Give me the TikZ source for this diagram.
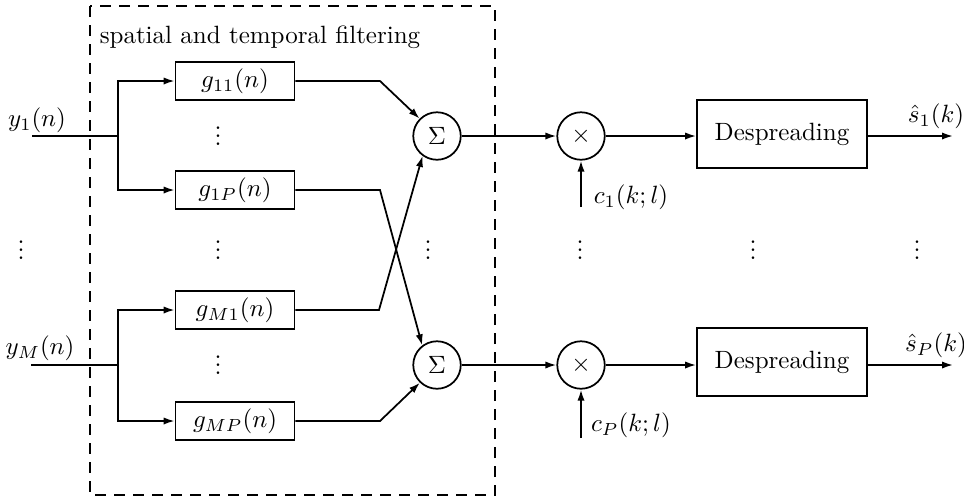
\documentclass[tikz,border=0pt]{standalone}
\usetikzlibrary{arrows.meta}
% compact vertical ellipsis
\newcommand{\vdts}{\vbox{\baselineskip3.1pt\lineskiplimit0pt\hbox{.}\hbox{.}\hbox{.}}}
\begin{document}
\begin{tikzpicture}[x=0.4pt,y=-0.4pt,
  line width=0.7pt,
  arr/.style={-{Latex[length=4.4pt,width=2.9pt]}},
  filt/.style={draw,minimum width=47.6pt,minimum height=15.2pt,inner sep=0pt},
  desp/.style={draw,minimum width=68pt,minimum height=27.2pt,inner sep=0pt},
  op/.style={draw,circle,minimum size=19pt,inner sep=0pt},
  lbl/.style={inner sep=0pt},
  frame/.style={line width=0.8pt,dash pattern=on 4.4pt off 3.2pt}]
\useasboundingbox (0,0) rectangle (964,502);

% dashed frame around the filter bank
\draw[frame] (90,6) rectangle (495,495);
\node[lbl] (title) at (260,37) {spatial and temporal filtering};

% inputs
\node[lbl] (ly1) at (37,120) {$y_1(n)$};
\node[lbl] (lyM) at (40,348) {$y_M(n)$};
\coordinate (in1) at (32,136);
\coordinate (br1) at (118,136);
\coordinate (inM) at (31,365);
\coordinate (brM) at (118,365);

% filters
\node[filt] (g11) at (235,81)  {$g_{11}(n)$};
\node[filt] (g1P) at (235,190) {$g_{1P}(n)$};
\node[filt] (gM1) at (235,310) {$g_{M1}(n)$};
\node[filt] (gMP) at (235,421) {$g_{MP}(n)$};

% summers and multipliers
\node[op] (sum1) at (437,136) {$\Sigma$};
\node[op] (sum2) at (437,365) {$\Sigma$};
\node[op] (mul1) at (581,136) {$\times$};
\node[op] (mul2) at (581,365) {$\times$};

% despreaders
\node[desp] (d1) at (782,134) {Despreading};
\node[desp] (d2) at (782,362) {Despreading};

% bend points after the filters
\coordinate (b11) at (380,81);
\coordinate (b1P) at (380,190);
\coordinate (bM1) at (379,310);
\coordinate (bMP) at (380,421);

% code inputs and outputs
\coordinate (c1) at (581,207);
\coordinate (cP) at (581,438);
\node[lbl] (lc1) at (631,197) {$c_1(k;l)$};
\node[lbl] (lcP) at (631,425) {$c_P(k;l)$};
\coordinate (o1) at (953,136);
\coordinate (o2) at (953,365);
\node[lbl] (ls1) at (936,116) {$\hat{s}_1(k)$};
\node[lbl] (lsP) at (936,345) {$\hat{s}_P(k)$};

% ellipses
\node[lbl] (e1) at (21,250)  {\vdts};
\node[lbl] (e2) at (218,136) {\vdts};
\node[lbl] (e3) at (218,250) {\vdts};
\node[lbl] (e4) at (218,365) {\vdts};
\node[lbl] (e5) at (428,250) {\vdts};
\node[lbl] (e6) at (580,250) {\vdts};
\node[lbl] (e7) at (753,250) {\vdts};
\node[lbl] (e8) at (917,250) {\vdts};

% input fan-out
\draw (in1) -- (br1);
\draw[arr] (br1) |- (g11.west);
\draw[arr] (br1) |- (g1P.west);
\draw (inM) -- (brM);
\draw[arr] (brM) |- (gM1.west);
\draw[arr] (brM) |- (gMP.west);

% filter outputs to summers
\draw[arr] (g11.east) -- (b11) -- (sum1.135);
\draw[arr] (g1P.east) -- (b1P) -- (sum2.127);
\draw[arr] (gM1.east) -- (bM1) -- (sum1.234);
\draw[arr] (gMP.east) -- (bMP) -- (sum2.226);

% main chain
\draw[arr] (sum1) -- (mul1);
\draw[arr] (sum2) -- (mul2);
\draw[arr] (c1) -- (mul1);
\draw[arr] (cP) -- (mul2);
\draw[arr] (mul1) -- (mul1 -| d1.west);
\draw[arr] (mul2) -- (mul2 -| d2.west);
\draw[arr] (d1.east |- o1) -- (o1);
\draw[arr] (d2.east |- o2) -- (o2);
\end{tikzpicture}
\end{document}
